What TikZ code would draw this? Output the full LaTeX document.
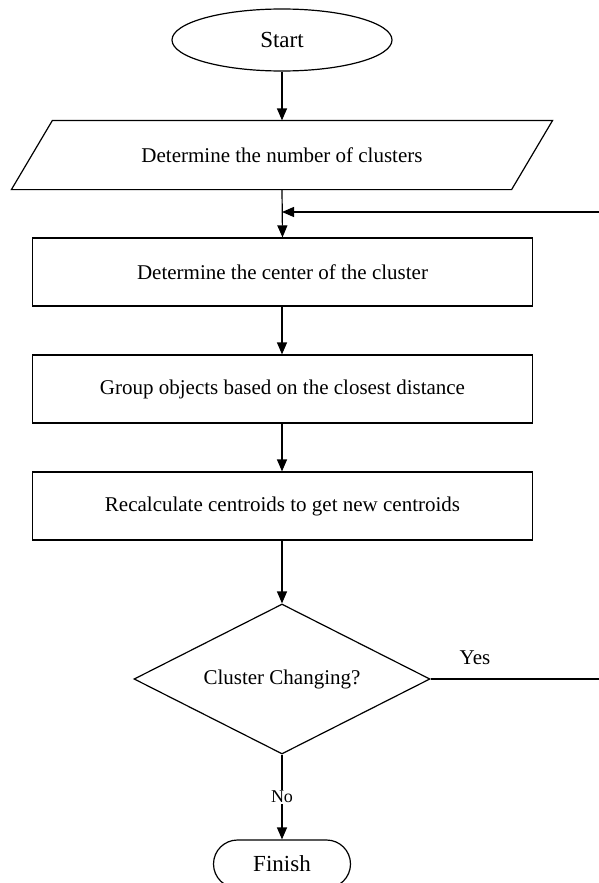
\documentclass[tikz,border=0pt]{standalone}
\usepackage{fontspec}
\setmainfont{Liberation Serif}
\usetikzlibrary{shapes.geometric,arrows.meta,calc}

\begin{document}
\begin{tikzpicture}[x=1pt,y=-1pt,line width=1.2pt,
  every node/.style={font=\fontsize{21}{25}\selectfont},
  proc/.style={draw,rectangle,minimum width=500pt,minimum height=68pt,inner sep=0pt},
  term/.style={draw,ellipse,minimum width=220pt,minimum height=62pt,inner sep=0pt,
    font=\fontsize{23}{27}\selectfont},
  stop/.style={draw,rectangle,rounded corners=24pt,minimum width=137pt,minimum height=48pt,
    inner sep=0pt,font=\fontsize{23}{27}\selectfont},
  iobox/.style={rectangle,minimum width=499pt,minimum height=68pt,inner sep=0pt},
  decide/.style={draw,diamond,aspect=2,minimum width=296pt,minimum height=150pt,inner sep=0pt},
  flow/.style={-{Triangle[length=12pt,width=10pt]}},
  tag/.style={fill=white,inner sep=1pt,font=\fontsize{18}{21}\selectfont}]

\useasboundingbox (0,0) rectangle (598,883);

% terminals, steps and the decision
\node[term] (start) at (282,40) {Start};
\node[iobox] (para) at (282,155) {Determine the number of clusters};
\draw ($(para.north west)+(20.5,0)$) -- ($(para.north east)+(20.5,0)$)
   -- ($(para.south east)-(20.5,0)$) -- ($(para.south west)-(20.5,0)$) -- cycle;
\node[proc] (center) at (282.5,272) {Determine the center of the cluster};
\node[proc] (group) at (282.5,389) {Group objects based on the closest distance};
\node[proc] (recalc) at (282.5,506) {Recalculate centroids to get new centroids};
\node[decide] (dec) at (282,679) {Cluster Changing?};
\node[stop] (fin) at (282,864) {Finish};

% main flow
\draw[flow] (start.south) -- (para.north);
\draw[flow] (para.south) -- (center.north);
\draw[flow] (center.south -| start.south) -- (group.north -| start.south);
\draw[flow] (group.south -| start.south) -- (recalc.north -| start.south);
\draw[flow] (recalc.south -| start.south) -- (dec.north);
\draw[flow] (dec.south) -- node[tag] (no) {No} (fin.north);

% loop back when clusters still change
\coordinate (rt) at (601,679);
\coordinate (join) at (282,212);
\draw[flow] (dec.east) -- (rt) |- (join);
\node (yes) at (475,658) {Yes};

\end{tikzpicture}
\end{document}
